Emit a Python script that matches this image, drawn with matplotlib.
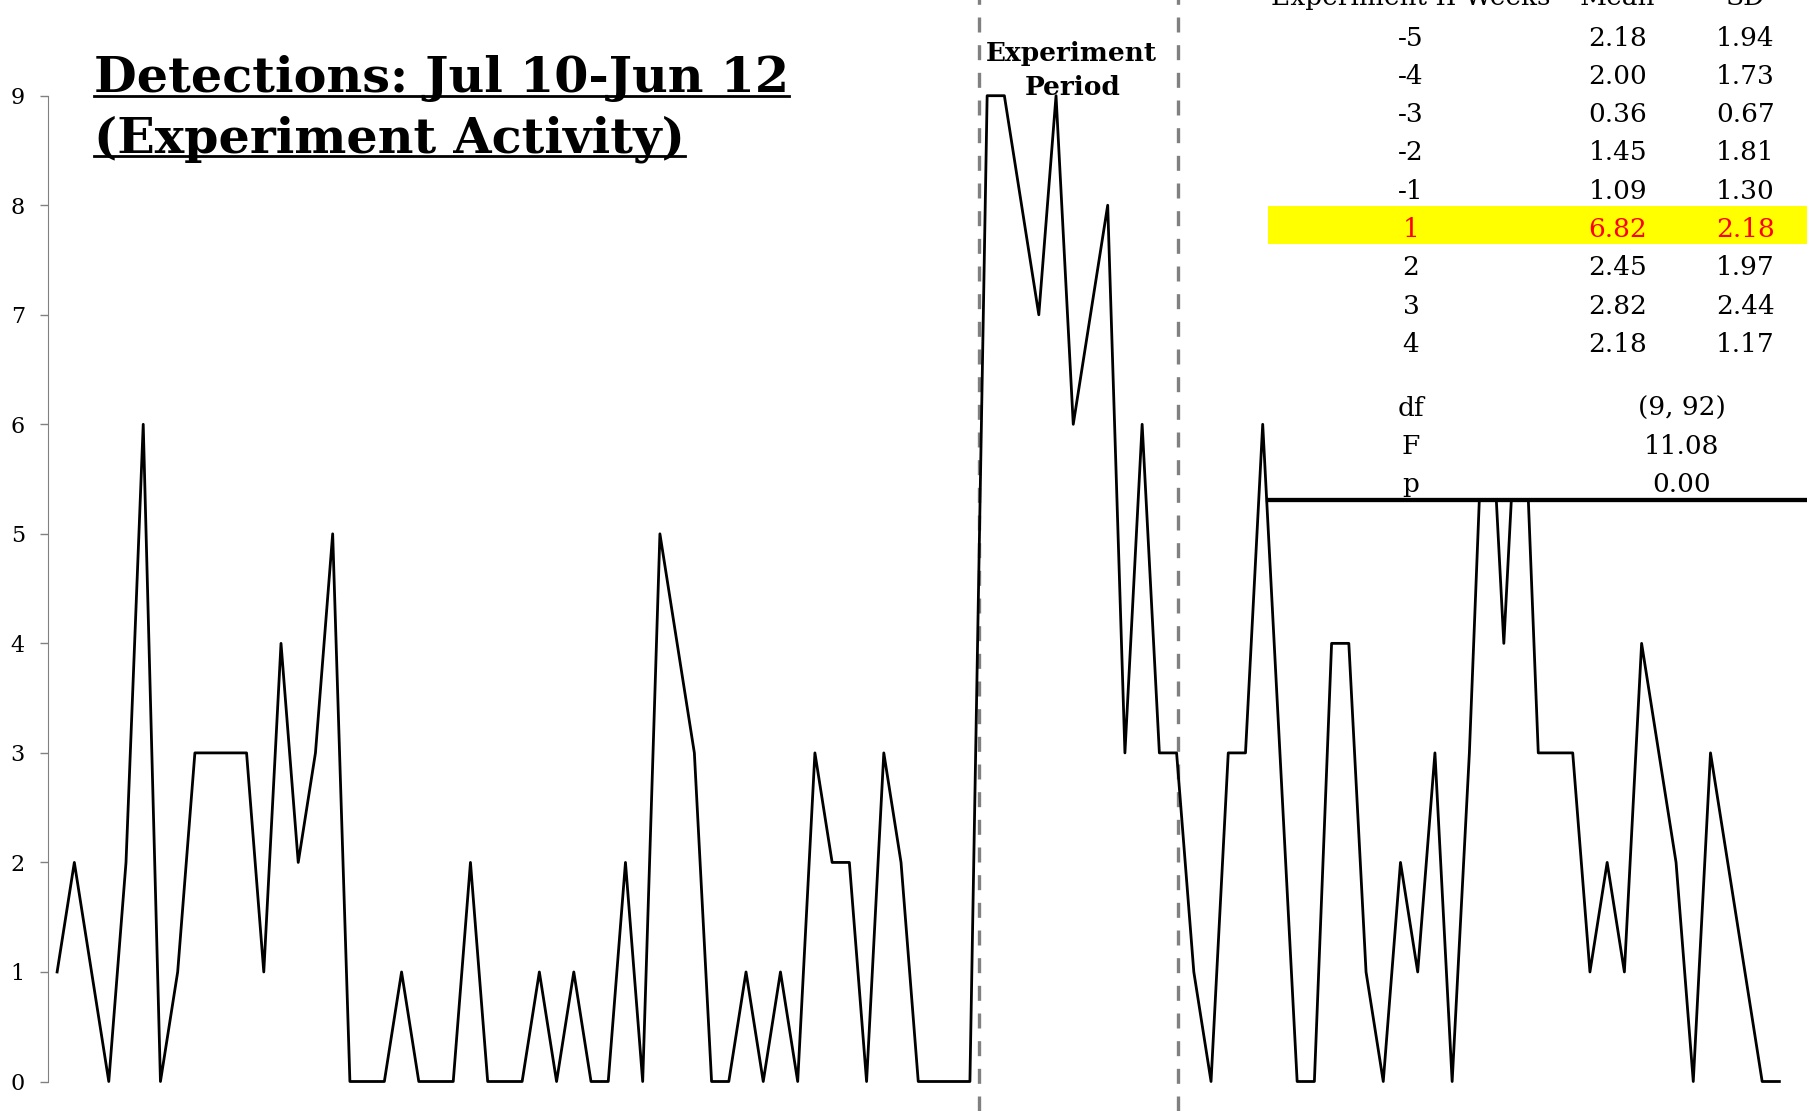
import numpy as np
import matplotlib
matplotlib.use('Agg')
import matplotlib.pyplot as plt
from matplotlib.patches import Rectangle
from matplotlib.lines import Line2D

# daily detections, Jul 10 - Jun 12
detections = [1, 2, 1, 0, 2, 6, 0, 1, 3, 3,
              3, 3, 1, 4, 2, 3, 5, 0, 0, 0, 1,
              0, 0, 0, 2, 0, 0, 0, 1, 0, 1, 0,
              0, 2, 0, 5, 4, 3, 0, 0, 1, 0, 1,
              0, 3, 2, 2, 0, 3, 2, 0, 0, 0, 0,
              9, 9, 8, 7, 9, 6, 7, 8, 3, 6, 3,
              3, 1, 0, 3, 3, 6, 3, 0, 0, 4, 4,
              1, 0, 2, 1, 3, 0, 3, 7, 4, 7, 3,
              3, 3, 1, 2, 1, 4, 3, 2, 0, 3, 2,
              1, 0, 0]
period_bounds = [53.5, 65.1]

# summary table
weeks = ['-5', '-4', '-3', '-2', '-1', '1', '2', '3', '4']
week_mean = ['2.18', '2.00', '0.36', '1.45', '1.09', '6.82', '2.45', '2.82', '2.18']
week_sd = ['1.94', '1.73', '0.67', '1.81', '1.30', '2.18', '1.97', '2.44', '1.17']
highlight = '1'
stat_names = ['df', 'F', 'p']
stat_values = ['(9, 92)', '11.08', '0.00']

W, H = 1808, 1111
def fx(px):
    return px / W
def fy(py):
    return 1 - py / H

plt.rcParams.update({'font.family': 'DejaVu Serif'})
fig = plt.figure(figsize=(W / 100, H / 100), dpi=100)
ax = fig.add_axes([fx(48.5), fy(1081.5), (1788 - 48.5) / W, (1081.5 - 95.7) / H])

x = np.arange(len(detections))
ax.plot(x, detections, color='black', lw=2.0, clip_on=False, zorder=3)
for xv in period_bounds:
    ax.axvline(xv, ymin=-0.03, ymax=1.1, color='#808080', lw=2.4,
               ls=(0, (4.5, 3.8)), clip_on=False, zorder=2)

ax.set_xlim(-0.5, len(detections) - 0.5)
ax.set_ylim(0, 9)
ax.set_yticks(range(10))
ax.set_xticks([])
ax.tick_params(axis='y', colors='#808080', labelcolor='black', length=6,
               width=1, pad=11, labelsize=16)
for s in ['top', 'right', 'bottom']:
    ax.spines[s].set_visible(False)
ax.spines['left'].set_color('#808080')

# experiment period label
fig.text(fx(1071), fy(61), 'Experiment', fontsize=19, fontweight='bold',
         ha='center', va='baseline', zorder=5)
fig.text(fx(1073), fy(95), 'Period', fontsize=19, fontweight='bold',
         ha='center', va='baseline', zorder=5)

# table (white block over the chart)
tx0 = 1268
fig.add_artist(Rectangle((fx(tx0), fy(500)), 1 - fx(tx0), 500 / H,
                         transform=fig.transFigure, facecolor='white',
                         edgecolor='none', zorder=3))
cols = [1411, 1617.6, 1745.4]
tfs = 19
for c, head in zip(cols, ['Experiment II Weeks', 'Mean', 'SD']):
    fig.text(fx(c), fy(5.3), head, fontsize=tfs, ha='center', va='baseline', zorder=5)
for i, (wk, m, sd) in enumerate(zip(weeks, week_mean, week_sd)):
    yb = 45.5 + 38.3 * i
    color = 'black'
    if wk == highlight:
        color = 'red'
        fig.add_artist(Rectangle((fx(tx0), fy(yb + 7)), 1 - fx(tx0), 37.7 / H,
                                 transform=fig.transFigure, facecolor='#ffff00',
                                 edgecolor='none', zorder=4))
    for c, t in zip(cols, [wk, m, sd]):
        fig.text(fx(c), fy(yb), t, fontsize=tfs, color=color, ha='center',
                 va='baseline', zorder=5)
for i, (n, v) in enumerate(zip(stat_names, stat_values)):
    yb = 415.6 + 38.3 * i
    fig.text(fx(cols[0]), fy(yb), n, fontsize=tfs, ha='center', va='baseline', zorder=5)
    fig.text(fx(1681.7), fy(yb), v, fontsize=tfs, ha='center', va='baseline', zorder=5)
fig.add_artist(Line2D([fx(tx0), 1], [fy(500), fy(500)], transform=fig.transFigure,
                      color='black', lw=3.1, zorder=6))

# title with underline
titles = []
for t, yb in [('Detections: Jul 10-Jun 12', 91.7), ('(Experiment Activity)', 152)]:
    titles.append((fig.text(fx(94), fy(yb), t, fontsize=35.5, fontweight='bold',
                            ha='left', va='baseline', zorder=5), yb))
fig.canvas.draw()
r = fig.canvas.get_renderer()
for txt, yb in titles:
    bb = txt.get_window_extent(r)
    fig.add_artist(Line2D([bb.x0 / W, bb.x1 / W], [fy(yb + 4), fy(yb + 4)],
                          transform=fig.transFigure, color='black', lw=2, zorder=5))

fig.savefig('out.png', dpi=100)
